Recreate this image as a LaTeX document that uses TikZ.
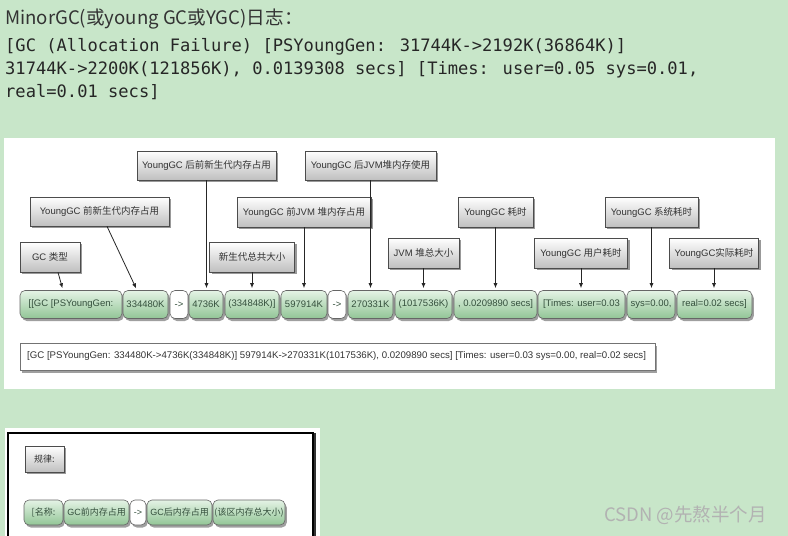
\documentclass[tikz,border=0pt]{standalone}
\usepackage{fontspec}
\setmainfont{Liberation Sans}
\newfontfamily\cjk{Noto Sans CJK SC}
\newfontfamily\monof{DejaVu Sans Mono}
\usetikzlibrary{shadows,arrows.meta}
\definecolor{bggreen}{HTML}{C8E6C9}
\definecolor{segtop}{HTML}{E4F3E5}
\definecolor{segbot}{HTML}{92C596}
\definecolor{segtext}{HTML}{35503D}
\definecolor{labtext}{HTML}{333333}
\begin{document}
\begin{tikzpicture}[x=1pt,y=-1pt,
  lab/.style={draw=black!70, line width=0.6pt, top color=white, bottom color=black!25,
    drop shadow={shadow xshift=2pt, shadow yshift=-2.2pt, opacity=0.8},
    font=\fontsize{9.5}{11}\selectfont, text=labtext, inner sep=0pt},
  seg/.style={draw=black!60, line width=0.6pt, rounded corners=5pt, top color=segtop, bottom color=segbot,
    drop shadow={shadow xshift=1.8pt, shadow yshift=-2.5pt, opacity=0.75},
    font=\fontsize{9.5}{11}\selectfont, text=segtext, inner sep=0pt, minimum height=28pt},
  segw/.style={seg, top color=white, bottom color=white},
  sseg/.style={seg, minimum height=25pt, font=\fontsize{9}{11}\selectfont},
  ssegw/.style={sseg, top color=white, bottom color=white},
  arr/.style={-{Latex[length=5pt,width=4pt]}, line width=0.8pt, black!85, shorten >=2pt},
  mono/.style={anchor=west, font=\monof\fontsize{17.1}{20}\selectfont, text=black!85, inner sep=0pt}
]
\useasboundingbox (0,0) rectangle (788,536);
\clip (0,0) rectangle (788,536);
\fill[bggreen] (0,0) rectangle (788,536);

% header text
\node[anchor=west, inner sep=0pt, font=\cjk\fontsize{18.6}{22}\selectfont, text=black!80] (title) at (5,19) {MinorGC(或young GC或YGC)日志：};
\node[mono] (m1) at (5,47) {[GC (Allocation Failure) [PSYoungGen: 31744K->2192K(36864K)]};
\node[mono] (m2) at (5,69.5) {31744K->2200K(121856K), 0.0139308 secs] [Times: user=0.05 sys=0.01,};
\node[mono] (m3) at (5,92) {real=0.01 secs]};

% white panel
\fill[white] (4,138) rectangle (775,389);

% bar segments
\node[seg, minimum width=102pt] (b1) at (71,304.5) {[[GC [PSYoungGen:};
\node[seg, minimum width=45pt] (b2) at (145.5,304.5) {334480K};
\node[segw, minimum width=18pt] (b3) at (179,304.5) {->};
\node[seg, minimum width=34pt] (b4) at (206,304.5) {4736K};
\node[seg, minimum width=54pt] (b5) at (252,304.5) {(334848K)]};
\node[seg, minimum width=46pt] (b6) at (304,304.5) {597914K};
\node[segw, minimum width=18pt] (b7) at (337,304.5) {->};
\node[seg, minimum width=45pt] (b8) at (370.5,304.5) {270331K};
\node[seg, minimum width=57pt] (b9) at (423.5,304.5) {(1017536K)};
\node[seg, minimum width=83pt] (b10) at (495.5,304.5) {, 0.0209890 secs]};
\node[seg, minimum width=87pt] (b11) at (581.5,304.5) {[Times: user=0.03};
\node[seg, minimum width=48pt] (b12) at (651,304.5) {sys=0.00,};
\node[seg, minimum width=75pt] (b13) at (714.5,304.5) {real=0.02 secs]};

% labels
\node[lab, minimum width=60pt, minimum height=30pt] (l1) at (50,257) {GC {\cjk 类型}};
\node[lab, minimum width=139pt, minimum height=29pt] (l2) at (99.5,211.5) {YoungGC {\cjk 前新生代内存占用}};
\node[lab, minimum width=139pt, minimum height=29pt] (l3) at (206.5,165.5) {YoungGC {\cjk 后前新生代内存占用}};
\node[lab, minimum width=85pt, minimum height=30pt] (l4) at (252,257) {\cjk 新生代总共大小};
\node[lab, minimum width=134pt, minimum height=30pt] (l5) at (304,212) {YoungGC {\cjk 前}JVM {\cjk 堆内存占用}};
\node[lab, minimum width=131pt, minimum height=29pt] (l6) at (370.5,165.5) {YoungGC {\cjk 后}JVM{\cjk 堆内存使用}};
\node[lab, minimum width=71pt, minimum height=30pt] (l7) at (423.5,253) {JVM {\cjk 堆总大小}};
\node[lab, minimum width=75pt, minimum height=30pt] (l8) at (495.5,212) {YoungGC {\cjk 耗时}};
\node[lab, minimum width=93pt, minimum height=30pt] (l9) at (581,253) {YoungGC {\cjk 用户耗时}};
\node[lab, minimum width=93pt, minimum height=30pt] (l10) at (651.5,212) {YoungGC {\cjk 系统耗时}};
\node[lab, minimum width=89pt, minimum height=30pt] (l11) at (714,253) {YoungGC{\cjk 实际耗时}};

% arrows
\draw[arr] ([xshift=8pt]l1.south) -- ([xshift=-8pt]b1.north);
\draw[arr] ([xshift=7.5pt]l2.south) -- ([xshift=-8.5pt]b2.north);
\draw[arr] (l3.south) -- (l3.south |- b4.north);
\draw[arr] (l4.south) -- (l4.south |- b5.north);
\draw[arr] (l5.south) -- (l5.south |- b6.north);
\draw[arr] (l6.south) -- (l6.south |- b8.north);
\draw[arr] (l7.south) -- (l7.south |- b9.north);
\draw[arr] (l8.south) -- (l8.south |- b10.north);
\draw[arr] (l9.south) -- (l9.south |- b11.north);
\draw[arr] (l10.south) -- (l10.south |- b12.north);
\draw[arr] (l11.south) -- (l11.south |- b13.north);

% full log line box
\node[draw=black!55, line width=0.6pt, fill=white, minimum width=635pt, minimum height=27pt, anchor=west,
  drop shadow={shadow xshift=2pt, shadow yshift=-2.5pt, opacity=0.75}] (log) at (20,356.5) {};
\node[anchor=west, inner sep=0pt, font=\fontsize{9.65}{11}\selectfont, text=black!80] (logtext) at ([xshift=7pt]log.west)
  {[GC [PSYoungGen: 334480K->4736K(334848K)] 597914K->270331K(1017536K), 0.0209890 secs] [Times: user=0.03 sys=0.00, real=0.02 secs]};

% bottom panel
\fill[white] (5,428) rectangle (320,536);
\draw[black!80, line width=4pt] (313.5,433) -- (313.5,540);
\draw[black, line width=2pt] (8,540) -- (8,433) -- (313,433) -- (313,540);
\node[lab, minimum width=39pt, minimum height=26pt, font=\cjk\fontsize{9}{11}\selectfont] (rule) at (44.5,459) {规律:};
\node[sseg, minimum width=39pt] (c1) at (43.5,512.5) {\cjk [名称:};
\node[sseg, minimum width=65pt] (c2) at (96.5,512.5) {GC{\cjk 前内存占用}};
\node[ssegw, minimum width=16pt] (c3) at (138,512.5) {->};
\node[sseg, minimum width=65pt] (c4) at (179.5,512.5) {GC{\cjk 后内存占用}};
\node[sseg, minimum width=72pt] (c5) at (249,512.5) {\cjk (该区内存总大小)};

% watermark
\node[anchor=west, inner sep=0pt, font=\cjk\fontsize{18.5}{22}\selectfont, text=black!30] (wm) at (604,515) {CSDN @先熬半个月};
\end{tikzpicture}
\end{document}
